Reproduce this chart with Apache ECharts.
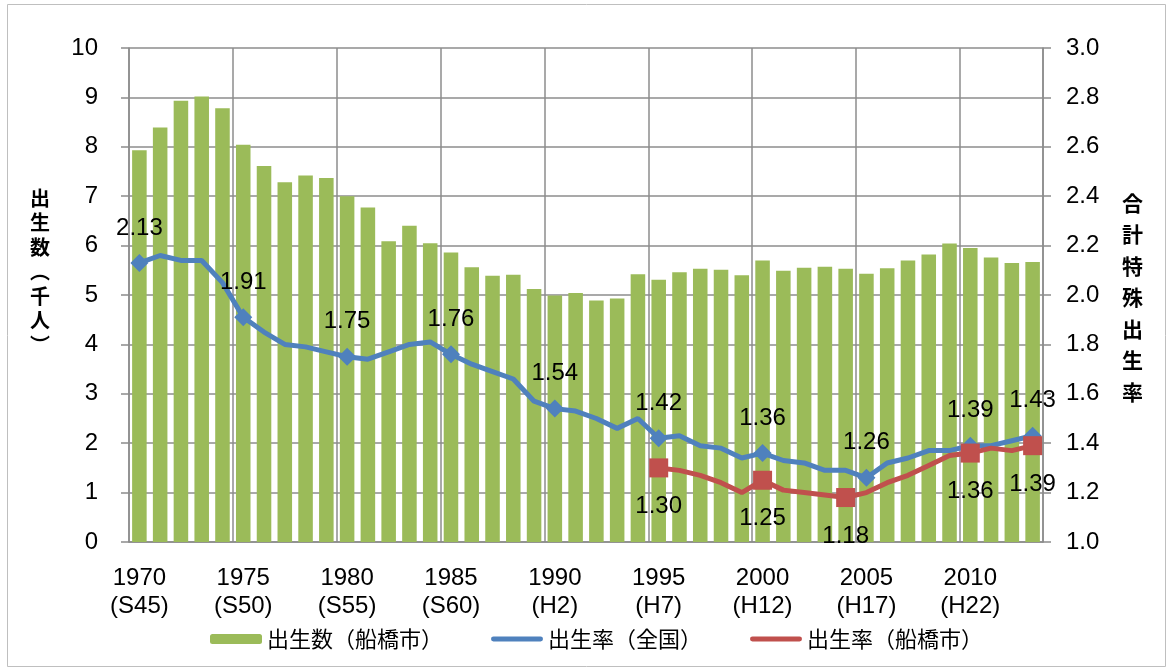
<!DOCTYPE html>
<html lang="ja">
<head>
<meta charset="utf-8">
<title>出生数と合計特殊出生率の推移</title>
<script src="https://cdn.jsdelivr.net/npm/echarts@6/dist/echarts.min.js"></script>
<style>
  html, body { margin: 0; padding: 0; background: #fff; }
  #chart { width: 1173px; height: 668px; }
</style>
</head>
<body>
<div id="chart"></div>
<script>
// 年（カテゴリ）
const years = [
  '1970', '1971', '1972', '1973', '1974', '1975', '1976', '1977', '1978', '1979',
  '1980', '1981', '1982', '1983', '1984', '1985', '1986', '1987', '1988', '1989',
  '1990', '1991', '1992', '1993', '1994', '1995', '1996', '1997', '1998', '1999',
  '2000', '2001', '2002', '2003', '2004', '2005', '2006', '2007', '2008', '2009',
  '2010', '2011', '2012', '2013',
];
// 5年ごとの目盛ラベル
const tickLabels = [
  '1970\n(S45)', '1975\n(S50)', '1980\n(S55)', '1985\n(S60)', '1990\n(H2)',
  '1995\n(H7)', '2000\n(H12)', '2005\n(H17)', '2010\n(H22)',
];
// 出生数（船橋市, 千人）
const birthsFunabashi = [
  7.93, 8.39, 8.93, 9.02, 8.78, 8.04, 7.61, 7.28, 7.42, 7.37,
  7.00, 6.77, 6.09, 6.40, 6.05, 5.86, 5.56, 5.39, 5.41, 5.12,
  4.99, 5.04, 4.89, 4.93, 5.42, 5.31, 5.46, 5.53, 5.51, 5.40,
  5.70, 5.49, 5.55, 5.57, 5.53, 5.43, 5.54, 5.70, 5.82, 6.04,
  5.95, 5.76, 5.65, 5.67,
];
// 合計特殊出生率（全国）
const tfrJapan = [
  2.13, 2.16, 2.14, 2.14, 2.05, 1.91, 1.85, 1.80, 1.79, 1.77,
  1.75, 1.74, 1.77, 1.80, 1.81, 1.76, 1.72, 1.69, 1.66, 1.57,
  1.54, 1.53, 1.50, 1.46, 1.50, 1.42, 1.43, 1.39, 1.38, 1.34,
  1.36, 1.33, 1.32, 1.29, 1.29, 1.26, 1.32, 1.34, 1.37, 1.37,
  1.39, 1.39, 1.41, 1.43,
];
// 合計特殊出生率（船橋市）1995年から
const tfrFunabashi = [
  null, null, null, null, null, null, null, null, null, null,
  null, null, null, null, null, null, null, null, null, null,
  null, null, null, null, null, 1.30, 1.29, 1.27, 1.24, 1.20,
  1.25, 1.21, 1.20, 1.19, 1.18, 1.20, 1.24, 1.27, 1.31, 1.35,
  1.36, 1.38, 1.37, 1.39,
];
// マーカーと数値を表示する年
const japanMarkers = ['1970', '1975', '1980', '1985', '1990', '1995', '2000', '2005', '2010', '2013'];
const funabashiMarkers = ['1995', '2000', '2004', '2010', '2013'];

const fontLatin = 'Liberation Sans, Arial, sans-serif';
const fontCjk = 'Noto Sans CJK JP, sans-serif';
const gridColor = '#8c8c8c';
const lineIcon = 'path://M2,0 H50 A2.5,2.5 0 0 1 50,5 H2 A2.5,2.5 0 0 1 2,0 Z';

function markedData(values, markers, symbol, size) {
  return values.map((v, i) => {
    if (!markers.includes(years[i])) return v;
    return { value: v, symbol: symbol, symbolSize: size, label: { show: true } };
  });
}

const chart = echarts.init(document.getElementById('chart'));
chart.setOption({
  animation: false,
  grid: { left: 129, right: 130, top: 48, bottom: 126 },
  legend: {
    left: 210,
    top: 628,
    padding: 0,
    itemWidth: 52,
    itemHeight: 10,
    itemGap: 48,
    textStyle: { fontFamily: fontCjk, fontSize: 22, color: '#000' },
    data: [
      { name: '出生数（船橋市）' },
      { name: '出生率（全国）', icon: lineIcon },
      { name: '出生率（船橋市）', icon: lineIcon },
    ],
  },
  xAxis: {
    type: 'category',
    data: years,
    axisLine: { lineStyle: { color: gridColor, width: 1.5 } },
    axisTick: { interval: 4, length: 8, lineStyle: { color: gridColor, width: 1.5 } },
    splitLine: { show: true, interval: 4, lineStyle: { color: gridColor, width: 1.5 } },
    axisLabel: {
      interval: 4,
      margin: 22,
      color: '#000',
      fontFamily: fontLatin,
      fontSize: 24,
      lineHeight: 28,
      formatter: (value, index) => tickLabels[index / 5],
    },
  },
  yAxis: [
    {
      type: 'value',
      min: 0,
      max: 10,
      interval: 1,
      axisLine: { show: true, lineStyle: { color: gridColor, width: 1.5 } },
      axisTick: { show: true, length: 8, lineStyle: { color: gridColor, width: 1.5 } },
      splitLine: { lineStyle: { color: gridColor, width: 1.5 } },
      axisLabel: { margin: 31, color: '#000', fontFamily: fontLatin, fontSize: 24 },
    },
    {
      type: 'value',
      position: 'right',
      min: 1,
      max: 3,
      interval: 0.2,
      axisLine: { show: true, lineStyle: { color: gridColor, width: 1.5 } },
      axisTick: { show: true, length: 8, lineStyle: { color: gridColor, width: 1.5 } },
      splitLine: { show: false },
      axisLabel: {
        margin: 23,
        color: '#000',
        fontFamily: fontLatin,
        fontSize: 24,
        formatter: (v) => v.toFixed(1),
      },
    },
  ],
  series: [
    {
      name: '出生数（船橋市）',
      type: 'bar',
      barWidth: '70%',
      itemStyle: { color: '#9bbb59' },
      data: birthsFunabashi,
    },
    {
      name: '出生率（全国）',
      type: 'line',
      yAxisIndex: 1,
      symbol: 'none',
      showAllSymbol: true,
      lineStyle: { color: '#4f81bd', width: 5 },
      itemStyle: { color: '#4f81bd' },
      label: {
        show: false,
        position: 'top',
        distance: 14,
        color: '#000',
        fontFamily: fontLatin,
        fontSize: 24,
        formatter: (p) => p.value.toFixed(2),
      },
      data: markedData(tfrJapan, japanMarkers, 'diamond', 18),
    },
    {
      name: '出生率（船橋市）',
      type: 'line',
      yAxisIndex: 1,
      symbol: 'none',
      showAllSymbol: true,
      lineStyle: { color: '#c0504d', width: 5 },
      itemStyle: { color: '#c0504d' },
      label: {
        show: false,
        position: 'bottom',
        distance: 17,
        color: '#000',
        fontFamily: fontLatin,
        fontSize: 24,
        formatter: (p) => p.value.toFixed(2),
      },
      data: markedData(tfrFunabashi, funabashiMarkers, 'rect', 19),
    },
  ],
  graphic: [
    {
      type: 'rect',
      shape: { x: 7.5, y: 4.5, width: 1158, height: 662 },
      style: { fill: 'none', stroke: '#bfbfbf', lineWidth: 1 },
      silent: true,
    },
    {
      type: 'text',
      left: 30,
      top: 186,
      style: {
        text: '出\n生\n数\n︵\n千\n人\n︶',
        font: 'bold 20px ' + fontCjk,
        lineHeight: 24.5,
        fill: '#000',
        align: 'center',
      },
    },
    {
      type: 'text',
      left: 1122,
      top: 187,
      style: {
        text: '合\n計\n特\n殊\n出\n生\n率',
        font: 'bold 21px ' + fontCjk,
        lineHeight: 31.5,
        fill: '#000',
        align: 'center',
      },
    },
  ],
});
</script>
</body>
</html>
